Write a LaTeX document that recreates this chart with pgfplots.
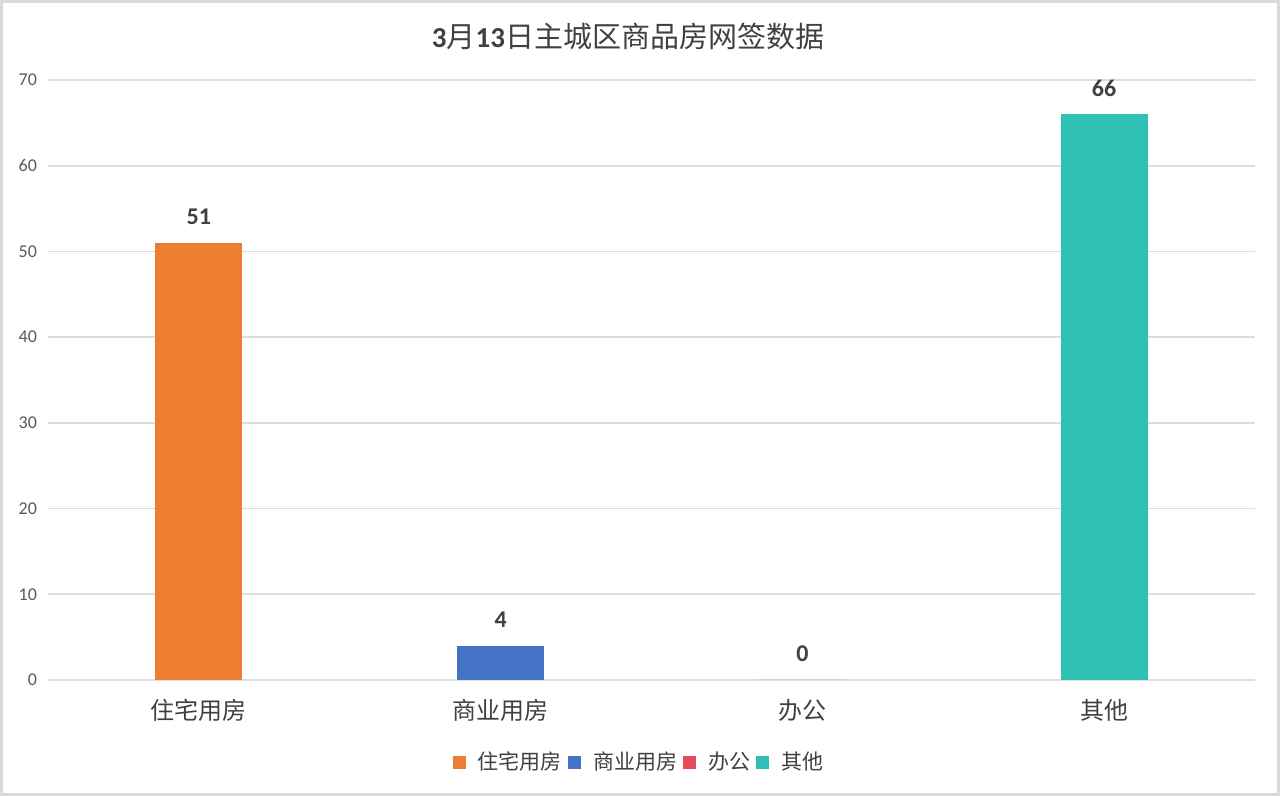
\documentclass[border=0pt]{standalone}
\usepackage{pgfplots}
\pgfplotsset{compat=1.18}
\usepackage{fontspec}
\setmainfont{Carlito}
\newfontfamily\cjk{Noto Sans CJK SC}

\definecolor{cOrange}{HTML}{ED7D31}
\definecolor{cBlue}{HTML}{4472C4}
\definecolor{cRed}{HTML}{E6485C}
\definecolor{cTeal}{HTML}{2EC1B4}
\definecolor{gridGray}{HTML}{DDDDDD}
\definecolor{frameGray}{HTML}{D9D9D9}
\definecolor{txtGray}{HTML}{595959}
\definecolor{darkTxt}{HTML}{404040}

\begin{document}
\begin{tikzpicture}[x=1pt,y=1pt]
    \path[use as bounding box] (0,0) rectangle (640,398);
    \draw[line width=1.5pt, frameGray] (0.75,0.75) rectangle (639.25,397.25);
    \node[text=darkTxt] at (314,380)
        {\fontsize{14.5}{16}\selectfont\textbf{3}{\cjk 月}\textbf{13}{\cjk 日主城区商品房网签数据}};

    \begin{axis}[
        at={(24pt,58pt)},
        anchor=south west,
        scale only axis,
        width=603.5pt,
        height=300pt,
        xmin=-0.5, xmax=3.5,
        ymin=0, ymax=70,
        ytick={0,10,...,70},
        xtick={0,1,2,3},
        xticklabels={住宅用房,商业用房,办公,其他},
        x tick label style={font=\cjk\fontsize{12}{14}\selectfont, text=darkTxt, yshift=-6pt},
        y tick label style={font=\fontsize{9}{11}\selectfont, text=txtGray, xshift=-2pt},
        /pgf/number format/assume math mode=true,
        ymajorgrids,
        grid style={gridGray, line width=0.8pt},
        axis line style={draw=none},
        axis x line*=bottom,
        axis y line*=left,
        x axis line style={gridGray, line width=0.8pt},
        major tick length=0pt,
        ybar,
        bar width=43.5pt,
        bar shift=0pt,
        nodes near coords,
        nodes near coords style={font=\bfseries\fontsize{12}{14}\selectfont, text=darkTxt, yshift=5.5pt},
        legend columns=4,
        legend style={
            at={(0.4905,-0.137)}, anchor=center, draw=none,
            font=\cjk\fontsize{10.5}{12}\selectfont, text=darkTxt,
            /tikz/every odd column/.append style={column sep=4pt},
            /tikz/every even column/.append style={column sep=1pt},
        },
        legend image code/.code={\fill[#1] (0pt,-3.3pt) rectangle (6.6pt,3.3pt);},
    ]
    \addplot[fill=cOrange, draw=none] coordinates {(0,51)};
    \addplot[fill=cBlue, draw=none] coordinates {(1,4)};
    \addplot[fill=cRed, draw=none] coordinates {(2,0)};
    \addplot[fill=cTeal, draw=none] coordinates {(3,66)};
    \legend{住宅用房,商业用房,办公,其他}
    \end{axis}
\end{tikzpicture}
\end{document}
